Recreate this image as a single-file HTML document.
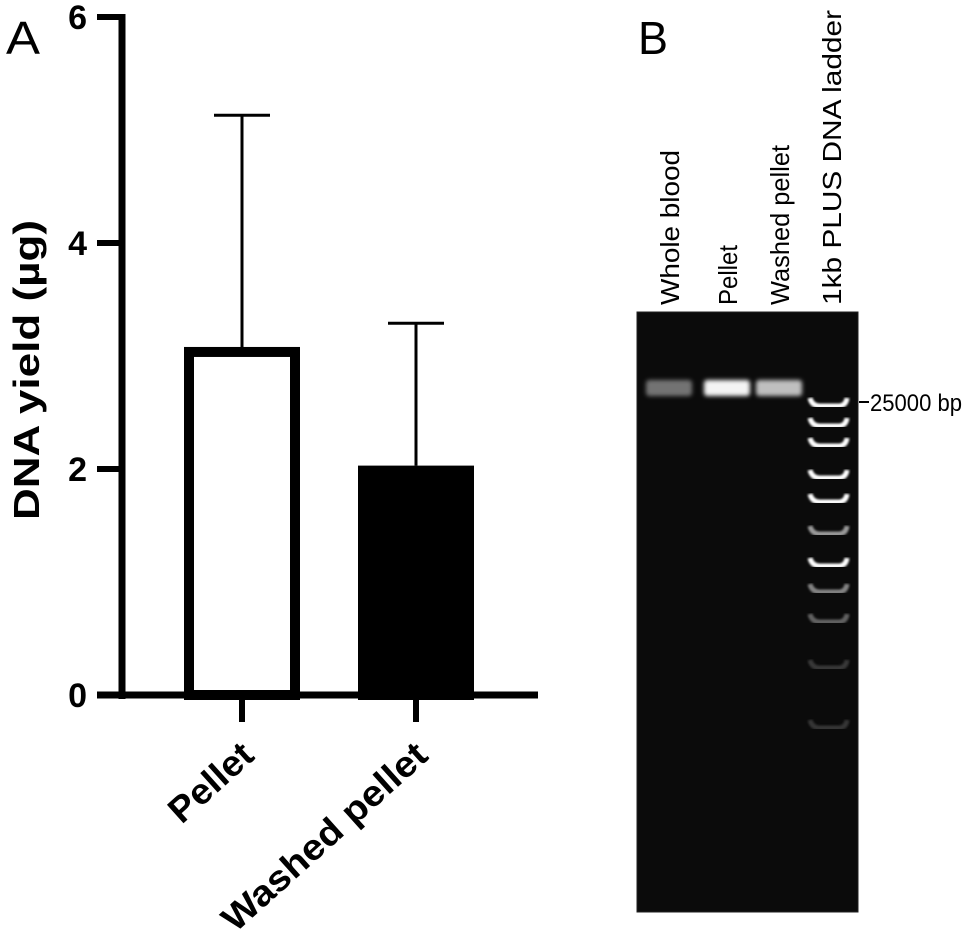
<!DOCTYPE html>
<html><head><meta charset="utf-8"><style>
body{margin:0;background:#fff;}
svg{display:block;font-family:"Liberation Sans",Arial,sans-serif;}
</style></head><body>
<svg id="fig" width="974" height="942" viewBox="0 0 974 942">
<defs>
<filter id="blur2" x="-20%" y="-50%" width="140%" height="200%"><feGaussianBlur stdDeviation="2"/></filter>
<filter id="blur1"><feGaussianBlur stdDeviation="1"/></filter>
</defs>
<text x="6" y="54" font-size="46" textLength="34" lengthAdjust="spacingAndGlyphs">A</text>
<g id="chartA"></g>
<text x="638" y="54" font-size="46" textLength="30" lengthAdjust="spacingAndGlyphs">B</text>
<g id="gel"></g>
</svg>
<script>
const categories=["Pellet","Washed pellet"];
const means=[3.08,2.03];
const errors=[2.05,1.26];
const fills=["#fff","#000"];
const yTicks=[0,2,4,6];
const laneLabels=["Whole blood","Pellet","Washed pellet","1kb PLUS DNA ladder"];
const sampleBandIntensity=[0.35,0.95,0.7];
const ladderRelPos=[0,0.1,0.2,0.36,0.48,0.64,0.8,0.93,1.08,1.31,1.61];
const ladderIntensity=[1,1,1,1,1,0.55,1,0.45,0.3,0.12,0.1];
const NS="http://www.w3.org/2000/svg";
function mk(t,a,p){const e=document.createElementNS(NS,t);for(const k in a)e.setAttribute(k,a[k]);p.appendChild(e);return e;}
const A=document.getElementById('chartA');
const y0=695,yTop=17,x0=122;
function ys(v){return y0-(v/6)*(y0-yTop);}
function xc(i){return 242+i*174;}
let ax=mk('line',{x1:x0,y1:14,x2:x0,y2:699,stroke:'#000','stroke-width':7},A);

let bx=mk('line',{x1:97,y1:y0,x2:538,y2:y0,stroke:'#000','stroke-width':7},A);

yTicks.forEach(v=>{
 let t=mk('line',{x1:97,y1:ys(v),x2:x0,y2:ys(v),stroke:'#000','stroke-width':6},A);
 
 let l=mk('text',{x:87,y:ys(v)+12,'font-size':34,'font-weight':'bold','text-anchor':'end'},A);l.textContent=v;
 
});
let yt=mk('text',{x:0,y:0,'font-size':36,'font-weight':'bold','text-anchor':'middle',textLength:300,lengthAdjust:'spacingAndGlyphs',transform:'translate(39,370) rotate(-90)'},A);
yt.textContent='DNA yield (µg)';
const labLen=[100,262];
categories.forEach((c,i)=>{
 const cx=xc(i),w=116;
 const top=ys(means[i]),et=ys(means[i]+errors[i]);
 let e=mk('line',{x1:cx,y1:top,x2:cx,y2:et,stroke:'#000','stroke-width':3},A);
 
 let cp=mk('line',{x1:cx-28,y1:et,x2:cx+28,y2:et,stroke:'#000','stroke-width':3},A);
 
 let r=mk('rect',{x:cx-w/2+5,y:top+5,width:w-10,height:y0-top-5,fill:fills[i],stroke:'#000','stroke-width':10},A);
 
 let tk=mk('line',{x1:cx,y1:y0,x2:cx,y2:722,stroke:'#000','stroke-width':6},A);
 
 let lb=mk('text',{x:0,y:0,'font-size':36,'font-weight':'bold','text-anchor':'end',textLength:labLen[i],lengthAdjust:'spacingAndGlyphs',transform:`translate(${cx+14},758) rotate(-42)`},A);
 lb.textContent=c;
});
// gel
const G=document.getElementById('gel');
const gx=637,gy=312,gw=221,gh=600;
let bg=mk('rect',{x:gx,y:gy,width:gw,height:gh,fill:'#0b0b0b',stroke:'#222','stroke-width':1},G);

const laneX=[668,726,778,830];
const laneLen=[155,60,160,295];
laneLabels.forEach((t,i)=>{
 let l=mk('text',{x:0,y:0,'font-size':26,textLength:laneLen[i],lengthAdjust:'spacingAndGlyphs',transform:`translate(${laneX[i]+11},305) rotate(-90)`},G);
 l.textContent=t;
});
sampleBandIntensity.forEach((v,i)=>{
 const g=Math.round(40+v*215);
 let b=mk('rect',{x:laneX[i]-22,y:380,width:46,height:16,rx:3,fill:`rgb(${g},${g},${g})`,filter:'url(#blur2)'},G);
 
});
const ladTop=402,ladSpan=200;
ladderRelPos.forEach((p,i)=>{
 const y=ladTop+p*ladSpan,v=ladderIntensity[i];
 const g=Math.round(30+v*225);
 let b=mk('path',{d:`M810 ${y-4} Q812 ${y+4} 820 ${y+4} L838 ${y+4} Q846 ${y+4} 847 ${y-4}`,fill:'none',stroke:`rgb(${g},${g},${g})`,'stroke-width':5,filter:'url(#blur1)'},G);
 
});
let m=mk('line',{x1:859,y1:ladTop,x2:869,y2:ladTop,stroke:'#000','stroke-width':2},G);

let ml=mk('text',{x:870,y:ladTop+9,'font-size':24,textLength:92,lengthAdjust:'spacingAndGlyphs'},G);ml.textContent='25000 bp';

</script>
</body></html>
